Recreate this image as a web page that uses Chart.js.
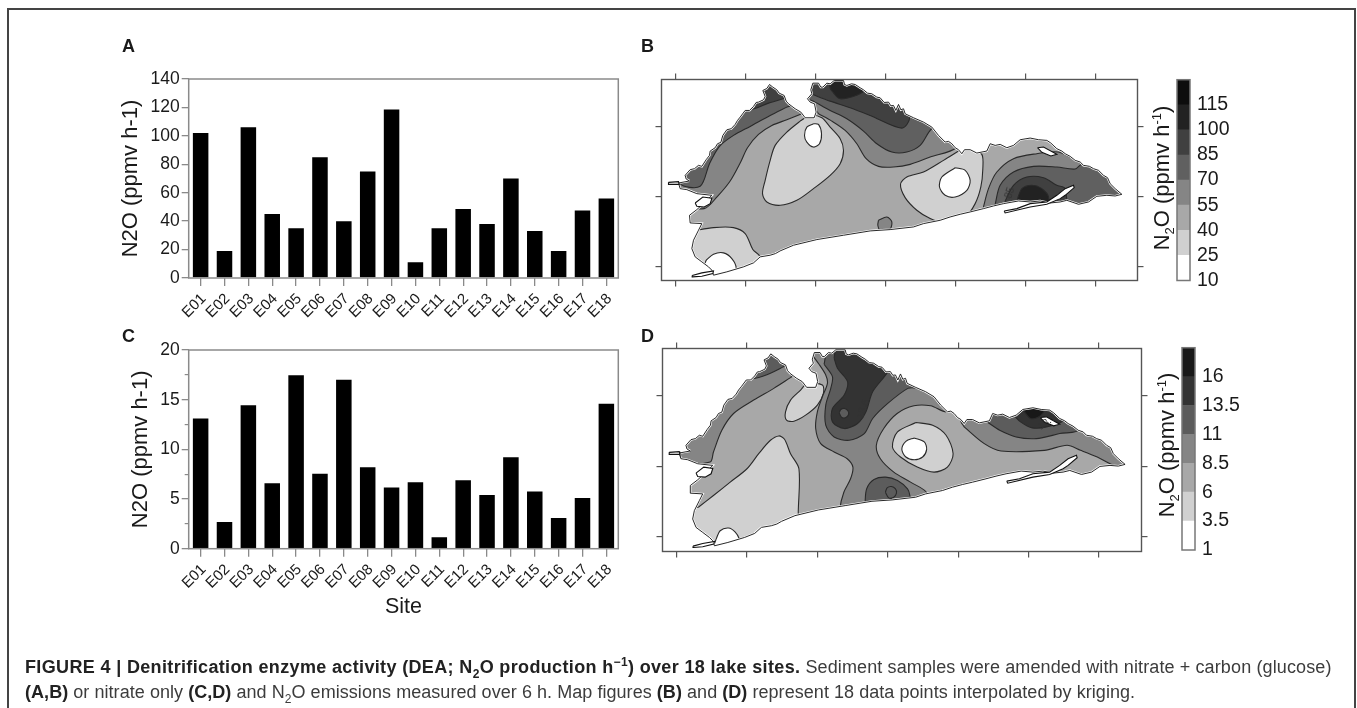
<!DOCTYPE html>
<html><head><meta charset="utf-8">
<script src="https://cdn.jsdelivr.net/npm/chart.js@4"></script>
<style>
html,body{margin:0;padding:0;background:#fff;width:1357px;height:708px;overflow:hidden;font-family:"Liberation Sans",Arial,sans-serif}
#page{position:absolute;left:0;top:0;width:1357px;height:708px;filter:blur(.4px)}
canvas{position:absolute;display:block}
#outer{position:absolute;left:7px;top:8px;width:1349px;height:720px;border:2px solid #444;box-sizing:border-box}
.t{position:absolute;white-space:nowrap;color:#1a1a1a}
.letter{font-weight:bold;font-size:18px;line-height:18px}
.rot{transform:translate(-50%,-50%) rotate(-90deg);font-size:22px;line-height:22px}
.rot sub,.rot sup{font-size:13px;line-height:0}
.lab{font-size:10px;line-height:10px;color:#333;transform:translate(-50%,-50%) rotate(-72deg)}
.cap{font-size:18px;line-height:20px;color:#3c3c3c;left:25px}
.cap b{color:#222}
.cap sub,.cap sup{font-size:12px;line-height:0}
</style></head><body>
<div id="page">
<div id="outer"></div>
<canvas id="cA" width="509" height="270" style="left:118px;top:65px"></canvas>
<canvas id="cC" width="499" height="284" style="left:128px;top:336px"></canvas>
<canvas id="cB" width="496" height="222" style="left:651px;top:69px"></canvas>
<canvas id="cD" width="500" height="224" style="left:652px;top:338px"></canvas>
<canvas id="cbB" width="100" height="239" style="left:1170px;top:61px"></canvas>
<canvas id="cbD" width="100" height="243" style="left:1175px;top:329px"></canvas>
<div class="t letter" style="left:122px;top:37px">A</div>
<div class="t letter" style="left:641px;top:37px">B</div>
<div class="t letter" style="left:122px;top:327px">C</div>
<div class="t letter" style="left:641px;top:327px">D</div>
<div class="t rot" style="left:1162px;top:178px">N<sub>2</sub>O (ppmv h<sup>-1</sup>)</div>
<div class="t rot" style="left:1167px;top:445px">N<sub>2</sub>O (ppmv h<sup>-1</sup>)</div>
<div class="t lab" style="left:1010px;top:193px">85</div>
<div class="t lab" style="left:863px;top:409px">13.5</div>
<div class="t lab" style="left:1047px;top:422px;transform:translate(-50%,-50%) rotate(-35deg)">13.5</div>
<div class="t cap" style="top:657px"><b style="letter-spacing:.35px">FIGURE 4 | Denitrification enzyme activity (DEA; N<sub>2</sub>O production h<sup>−1</sup>) over 18 lake sites.</b> <span style="letter-spacing:.12px">Sediment samples were amended with nitrate + carbon (glucose)</span></div>
<div class="t cap" style="top:682px;letter-spacing:.05px"><b>(A,B)</b> or nitrate only <b>(C,D)</b> and N<sub>2</sub>O emissions measured over 6 h. Map figures <b>(B)</b> and <b>(D)</b> represent 18 data points interpolated by kriging.</div>
</div>
<script>
const sites=["E01","E02","E03","E04","E05","E06","E07","E08","E09","E10","E11","E12","E13","E14","E15","E16","E17","E18"];
const n2oCarbon=[102,19,106,45,35,85,40,75,118.5,11,35,48.5,38,70,33,19,47.5,56];
const n2oNitrate=[13.1,2.7,14.45,6.6,17.45,7.55,17,8.2,6.15,6.7,1.15,6.9,5.4,9.2,5.75,3.1,5.1,14.6];
const edgesB=[10,25,40,55,70,85,100,115,130];
const edgesD=[1,3.5,6,8.5,11,13.5,16,18.5];
const graysB=['#ffffff','#d0d0d0','#a8a8a8','#858585','#606060','#404040','#222222','#0d0d0d'];
const graysD=['#ffffff','#d0d0d0','#a8a8a8','#858585','#5c5c5c','#333333','#181818'];
const mapXTicks=[137,347,557,767,977,1187,1397];
const mapYTicks=[198,408,618];
// lake shoreline, map units (clockwise from the west end)
const coastline=[[178,362],[168,356],[165,345],[180,328],[193,325],[205,315],[215,318],[228,298],[238,285],[240,272],[255,262],[262,250],[272,246],[278,225],[290,208],[303,205],[315,192],[322,180],[330,170],[345,150],[358,150],[370,138],[378,126],[385,125],[400,118],[405,108],[398,90],[410,84],[418,72],[428,80],[440,88],[447,98],[462,105],[468,122],[475,130],[495,145],[512,155],[525,172],[552,172],[558,155],[553,130],[540,125],[532,115],[545,100],[542,88],[548,68],[565,68],[572,80],[578,80],[590,68],[600,70],[612,60],[640,60],[643,72],[650,75],[664,70],[675,72],[690,82],[700,88],[712,98],[725,100],[740,110],[750,112],[762,126],[775,125],[782,136],[790,135],[797,150],[805,132],[812,148],[820,145],[825,160],[850,172],[880,185],[905,200],[925,225],[945,245],[955,243],[965,250],[975,262],[985,268],[995,280],[1003,268],[1020,268],[1040,278],[1070,272],[1080,250],[1095,255],[1110,252],[1130,262],[1150,255],[1170,238],[1200,233],[1225,238],[1250,240],[1262,248],[1280,265],[1295,272],[1305,280],[1320,288],[1335,300],[1350,305],[1360,315],[1378,318],[1390,325],[1405,330],[1420,345],[1432,352],[1440,370],[1455,385],[1475,402],[1455,407],[1430,405],[1400,408],[1375,425],[1345,432],[1310,420],[1290,425],[1260,428],[1230,422],[1200,425],[1165,422],[1120,430],[1090,437],[1060,445],[1020,455],[990,462],[960,470],[930,480],[880,490],[850,500],[780,508],[720,512],[640,525],[560,538],[490,555],[450,572],[436,580],[420,585],[390,590],[370,608],[340,620],[290,635],[250,645],[245,630],[235,620],[215,605],[195,590],[185,565],[190,540],[205,510],[215,490],[180,488],[178,465],[200,448],[225,425],[245,405],[200,400],[170,388],[150,385],[145,368]];
const islePelee=[[195,428],[218,410],[245,414],[240,430],[222,440],[200,438],[195,428]];
const isleSpitW=[[115,366],[145,364],[147,372],[115,372],[115,366]];
const isleTip=[[186,646],[215,638],[250,632],[248,640],[215,648],[187,650],[186,646]];
const isleLongPoint=[[1122,452],[1160,445],[1200,430],[1250,425],[1280,405],[1305,385],[1330,375],[1332,382],[1305,405],[1290,415],[1250,432],[1200,440],[1125,458],[1122,452]];
const isleNE=[[1222,262],[1240,260],[1280,282],[1262,287],[1235,276],[1222,262]];
// map B contour patches
const bNW55=[[515,160],[470,178],[425,195],[385,222],[352,262],[330,308],[300,362],[262,408],[222,445],[150,430],[100,350],[300,100],[470,90],[515,160]];
const bNW70=[[470,140],[420,165],[360,198],[310,225],[268,258],[238,310],[210,378],[150,370],[150,300],[300,120],[440,60],[490,130],[470,140]];
const bNW85=[[468,112],[415,128],[358,147],[340,120],[410,60],[470,80],[468,112]];
const bCenter25=[[510,182],[470,215],[435,255],[420,300],[405,360],[397,400],[410,425],[450,435],[500,420],[550,385],[600,345],[630,310],[640,270],[630,235],[600,200],[575,172],[540,165],[510,182]];
const bCenter10=[[550,190],[565,192],[574,220],[568,250],[550,260],[530,245],[523,225],[530,200],[550,190]];
const bN55=[[565,160],[605,182],[645,210],[680,250],[708,295],[745,318],[790,320],[840,312],[900,290],[978,262],[1000,200],[700,20],[540,60],[540,120],[565,160]];
const bN70=[[555,125],[600,150],[650,175],[700,212],[740,250],[785,275],[830,275],[870,255],[905,205],[1000,150],[700,10],[530,50],[530,110],[555,125]];
const bN85=[[543,100],[600,122],[660,142],[720,165],[815,203],[838,172],[800,90],[620,30],[530,50],[543,100]];
const bN100=[[600,85],[630,115],[700,92],[670,60],[600,50],[600,85]];
const bE25=[[985,272],[940,300],[880,335],[830,350],[811,372],[825,412],[860,450],[900,475],[935,485],[1005,470],[1035,430],[1052,380],[1058,325],[1055,282],[1020,260],[985,272]];
const bE10=[[975,322],[1005,330],[1020,360],[1010,390],[975,410],[945,405],[928,380],[935,350],[975,322]];
const bSW25=[[190,512],[250,502],[310,502],[345,520],[368,568],[390,592],[350,660],[100,660],[100,520],[190,512]];
const bSW10=[[228,600],[250,582],[280,578],[305,595],[318,625],[300,680],[200,680],[228,600]];
const bS55=[[745,480],[770,470],[785,485],[778,510],[750,510],[743,495],[745,480]];
const bE55=[[1058,447],[1075,385],[1100,335],[1150,295],[1220,280],[1285,275],[1340,298],[1500,300],[1500,500],[1058,500],[1058,447]];
const bE70=[[1095,432],[1110,375],[1150,335],[1210,318],[1280,320],[1335,326],[1360,310],[1500,400],[1450,500],[1095,500],[1095,432]];
const bE85=[[1125,422],[1150,375],[1190,350],[1240,352],[1280,375],[1305,385],[1300,480],[1125,480],[1125,422]];
const bE100=[[1163,412],[1175,385],[1205,375],[1235,385],[1255,410],[1250,470],[1163,470],[1163,412]];
// map D contour patches
const dNW85=[[477,143],[427,175],[367,210],[307,250],[272,300],[247,365],[237,395],[150,395],[100,300],[300,100],[450,60],[490,130],[477,143]];
const dNW110=[[457,110],[417,130],[362,145],[340,120],[410,60],[470,80],[457,110]];
const dW35=[[202,530],[247,495],[297,455],[347,415],[382,370],[417,330],[442,317],[459,327],[477,370],[502,415],[500,545],[500,650],[100,680],[100,540],[202,530]];
const dSW10=[[255,625],[267,600],[292,592],[312,604],[324,624],[340,680],[240,680],[255,625]];
const dN35=[[507,180],[477,210],[462,245],[465,270],[487,273],[522,255],[557,225],[575,190],[572,165],[527,160],[507,180]];
const dC85=[[530,60],[562,103],[582,135],[587,160],[572,200],[557,245],[552,295],[567,340],[607,365],[646,385],[663,410],[656,445],[636,485],[624,535],[624,600],[880,600],[885,490],[835,455],[785,425],[745,385],[733,345],[755,295],[795,250],[845,227],[895,227],[945,245],[1000,200],[960,100],[600,20],[530,60]];
const dC110=[[577,103],[602,140],[597,175],[582,225],[582,285],[607,320],[652,330],[697,310],[722,265],[767,220],[827,175],[860,170],[800,60],[600,20],[577,103]];
const dC135=[[607,85],[617,115],[647,155],[637,195],[602,235],[602,275],[637,295],[677,280],[702,245],[722,185],[767,125],[790,60],[620,30],[607,85]];
const dCSpot=[[622,248],[627,238],[638,235],[648,242],[650,253],[642,262],[630,262],[622,248]];
const dS110=[[699,520],[704,475],[726,447],[761,440],[796,450],[826,475],[833,495],[840,560],[700,560],[699,520]];
const dSSpot=[[760,485],[765,472],[778,468],[790,475],[793,488],[785,500],[770,502],[760,485]];
const dMid35=[[851,277],[901,285],[941,315],[962,370],[945,410],[905,425],[855,410],[805,380],[781,350],[796,305],[851,277]];
const dMid10=[[846,323],[876,335],[883,357],[871,380],[846,388],[821,380],[809,357],[821,333],[846,323]];
const dE85=[[995,290],[1055,340],[1105,362],[1234,360],[1302,345],[1342,360],[1392,380],[1452,408],[1480,395],[1400,250],[1200,180],[1020,230],[985,270],[995,290]];
const dE110=[[1066,277],[1101,300],[1150,320],[1210,325],[1280,310],[1340,297],[1340,200],[1100,200],[1066,277]];
const dE135=[[1143,255],[1163,275],[1198,293],[1240,290],[1290,270],[1280,200],[1150,200],[1143,255]];
const dE160=[[1171,240],[1193,265],[1218,260],[1233,240],[1200,200],[1171,240]];

Chart.defaults.animation=false;
Chart.defaults.font.family='"Liberation Sans",Arial,sans-serif';
Chart.defaults.color='#1a1a1a';
Chart.defaults.plugins.legend.display=false;
Chart.defaults.plugins.tooltip.enabled=false;
const frame=(color,w)=>({id:'frame',afterDatasetsDraw(c){const a=c.chartArea,x=c.ctx;x.save();x.strokeStyle=color;x.lineWidth=w;x.strokeRect(a.left,a.top,a.right-a.left,a.bottom-a.top);x.restore();}});

function barChart(id,values,yMax,majorTicks,minorTicks,yWidth,xHeight,padTop,title){
  const scales={
    x:{grid:{offset:false,drawOnChartArea:false,color:'#8a8a8a',tickLength:8,lineWidth:1.3},border:{display:false},
       ticks:{autoSkip:false,minRotation:45,maxRotation:45,padding:4,labelOffset:3,font:{size:15}},
       title:title?{display:true,text:title,font:{size:21.5},padding:0,color:'#1a1a1a'}:{display:false},
       afterFit(s){s.height=xHeight;}},
    y:{min:0,max:yMax,weight:1,grid:{drawOnChartArea:false,color:'#8a8a8a',tickLength:7,lineWidth:1.3},border:{display:false},
       afterBuildTicks(s){s.ticks=majorTicks.map(v=>({value:v}));},
       ticks:{padding:2,font:{size:17.5}},
       title:{display:true,text:'N2O (ppmv h-1)',font:{size:22},padding:0,color:'#1a1a1a'},
       afterFit(s){s.width=yWidth;}}
  };
  if(minorTicks){scales.yMinor={position:'left',min:0,max:yMax,weight:0,
       grid:{drawOnChartArea:false,color:'#8a8a8a',tickLength:4,lineWidth:1.2},border:{display:false},
       afterBuildTicks(s){s.ticks=minorTicks.map(v=>({value:v}));},
       ticks:{callback:()=>''},afterFit(s){s.width=0;}};}
  return new Chart(document.getElementById(id),{type:'bar',
    data:{labels:sites,datasets:[{data:values,backgroundColor:'#000',barPercentage:.65,categoryPercentage:1}]},
    options:{responsive:false,layout:{padding:{top:padTop,right:8.7}},scales},plugins:[frame('#8a8a8a',1.5)]});
}
barChart('cA',n2oCarbon,140,[0,20,40,60,80,100,120,140],null,70.7,57,14,null);
barChart('cC',n2oNitrate,20,[0,5,10,15,20],[2.5,7.5,12.5,17.5],60.7,71.3,14,'Site');

function closed(p){return p.map(a=>({x:a[0],y:a[1]}));}
function shapeDs(points,fillCol,line,tension,w){
  return {type:'scatter',data:closed(points),showLine:true,pointRadius:0,tension,
    fill:fillCol?'shape':false,backgroundColor:fillCol||'transparent',
    borderColor:line||'transparent',borderWidth:line?(w||1.1):0};
}
function lakeMask(xr,yr){
  const o=[[xr[0]-9,yr[0]-9],[xr[1]+9,yr[0]-9],[xr[1]+9,yr[1]+9],[xr[0]-9,yr[1]+9],[xr[0]-9,yr[0]-9]];
  const rev=coastline.slice().reverse();
  return o.concat([coastline[0]],rev,[o[0]]);
}
function mapChart(id,xr,yr,base,layers,grays,pad){
  const tickAxis=(pos,axis,ticksArr,fit)=>({position:pos,axis,min:axis==='x'?xr[0]:yr[0],max:axis==='x'?xr[1]:yr[1],reverse:axis==='y',
    grid:{drawOnChartArea:false,color:'#555',tickLength:6,lineWidth:1.2},border:{display:false},
    afterBuildTicks(s){s.ticks=ticksArr.map(v=>({value:v}));},
    ticks:{callback:()=>'',padding:0,autoSkip:false},
    afterFit:fit});
  const ring=coastline.concat([coastline[0]]);
  const ds=[shapeDs(ring,grays[base],null,0)];
  layers.forEach(l=>ds.push(shapeDs(l[0],grays[l[1]],'#2a2a2a',.3)));
  ds.push(shapeDs(lakeMask(xr,yr),'#ffffff',null,0));
  ds.push(shapeDs(ring,null,'#ffffff',0,2.2));
  ds.push(shapeDs(ring,null,'#111',0,.9));
  [islePelee,isleSpitW,isleTip,isleLongPoint,isleNE].forEach(p=>ds.push(shapeDs(p,'#ffffff','#111',0)));
  ds.forEach((d,i)=>{d.order=ds.length-i;});
  return new Chart(document.getElementById(id),{type:'scatter',data:{datasets:ds},
    options:{responsive:false,elements:{line:{capBezierPoints:false}},scales:{
      x:tickAxis('bottom','x',mapXTicks,s=>{s.height=pad[3];}),
      xTop:tickAxis('top','x',mapXTicks,s=>{s.height=pad[1];}),
      y:tickAxis('left','y',mapYTicks,s=>{s.width=pad[0];}),
      yRight:tickAxis('right','y',mapYTicks,s=>{s.width=pad[2];})
    }},plugins:[frame('#555',1.4)]});
}
mapChart('cB',[94,1522],[57,661],2,[[bNW55,3],[bNW70,4],[bNW85,5],[bN55,3],[bN70,4],[bN85,5],[bN100,6],[bCenter25,1],[bCenter10,0],[bE25,1],[bE10,0],[bSW25,1],[bSW10,0],[bS55,3],[bE55,3],[bE70,4],[bE85,5],[bE100,6]],graysB,[10.5,10.5,9.5,10.5]);
mapChart('cD',[95,1524],[56,662],2,[[dNW85,3],[dNW110,4],[dW35,1],[dSW10,0],[dN35,1],[dC85,3],[dC110,4],[dC135,5],[dCSpot,4],[dS110,4],[dSSpot,4],[dMid35,1],[dMid10,0],[dE85,3],[dE110,4],[dE135,5],[dE160,6]],graysD,[10.5,10.5,10.5,10.5]);

function colorBar(id,edges,grays,pad){
  const ds=grays.map((g,i)=>({data:[[edges[i],edges[i+1]]],backgroundColor:g,barPercentage:1,categoryPercentage:1}));
  return new Chart(document.getElementById(id),{type:'bar',data:{labels:['N2O'],datasets:ds},
    options:{responsive:false,layout:{padding:{left:7,top:0,bottom:pad[1]}},scales:{
      x:{display:false,stacked:true},
      y:{position:'right',stacked:false,min:edges[0],max:edges[edges.length-1],grid:{display:false,drawTicks:false},border:{display:false},
         afterBuildTicks(s){s.ticks=edges.slice(0,-1).map(v=>({value:v}));},
         ticks:{padding:7,autoSkip:false,font:{size:19.5},callback:v=>String(v)},
         afterFit(s){s.width=80;}}
    }},plugins:[frame('#777',1.5)]});
}
colorBar('cbB',edgesB,graysB,[0,19.5]);
colorBar('cbD',edgesD,graysD,[0,22]);
</script>
</body></html>
